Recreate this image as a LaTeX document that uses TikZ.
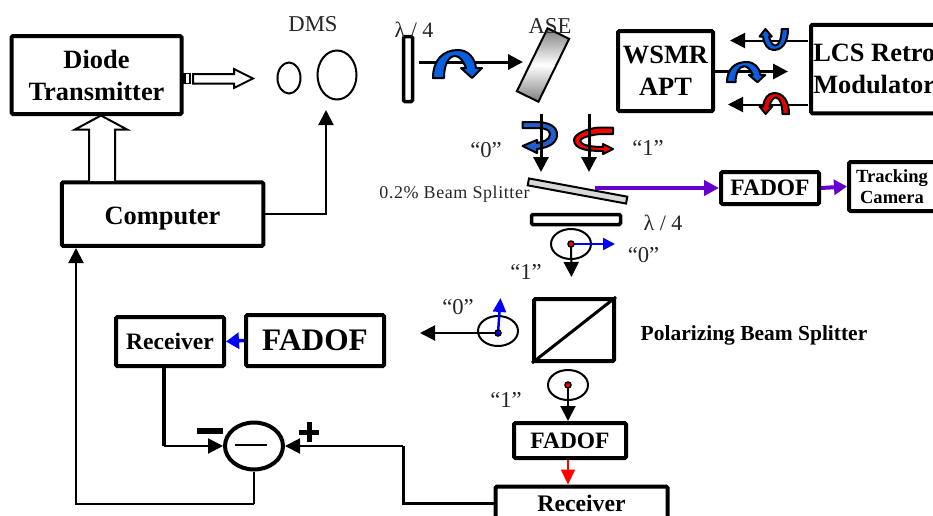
\documentclass[tikz,border=0pt]{standalone}
\usepackage{fontspec}
\setmainfont{Liberation Serif}
\usetikzlibrary{arrows.meta,calc,shapes.geometric}
\def\px{0.75pt}
\newcommand{\archpath}{(0,28) .. controls (0,10) and (10,0) .. (25,0) .. controls (35,0) and (42,8) .. (43,18) -- (49,18) -- (39,28) -- (28,18) -- (33,18) .. controls (30,10) and (26,6) .. (22,6) .. controls (15,6) and (11,16) .. (11,28) -- cycle}
\definecolor{arcblue}{HTML}{0A5FE0}
\definecolor{twistblue}{HTML}{1F5FD0}
\definecolor{purp}{HTML}{6600CC}
\tikzset{
  box/.style={draw=black,line width=4*\px,rounded corners=1pt,fill=white,inner sep=0pt,align=center,font=\bfseries\fontsize{19.8}{24}\selectfont},
  plain/.style={inner sep=0pt,font=\fontsize{17}{20}\selectfont,text=black!85},
  pol/.style={draw=black,line width=2*\px,ellipse,minimum width=40*\px,minimum height=30*\px,inner sep=0pt},
  dot/.style={circle,draw=black,line width=1.5*\px,minimum size=6*\px,inner sep=0pt},
  thinline/.style={draw=black,line width=2*\px},
  medline/.style={draw=black,line width=3*\px},
  tipn/.style={-{Triangle[length=15*\px,width=15*\px]}},
  arc/.style={draw=black,line width=2*\px,line join=round},
}
\begin{document}
\begin{tikzpicture}[x=0.75pt,y=-0.75pt]
\useasboundingbox (0,0) rectangle (933,515);
\fill[white] (0,0) rectangle (933,515);
\clip (0,0) rectangle (933,515);

% --- boxes
\node[box,minimum width=170*\px,minimum height=78*\px] (diode) at (96.5,75) {Diode\\Transmitter};
\node[box,minimum width=201.5*\px,minimum height=63.5*\px,text height=15pt,text depth=0pt] (comp) at (162.5,214) {Computer};
\node[box,minimum width=95*\px,minimum height=80*\px] (wsmr) at (665.5,71) {WSMR\\APT};
\node[box,minimum width=150*\px,minimum height=88.5*\px] (lcs) at (886,69) {};
\node[anchor=west,inner sep=0pt,align=left,font=\bfseries\fontsize{19.8}{24}\selectfont] (lcstext) at (813,69) {LCS Retro\\Modulator};
\node[box,minimum width=98*\px,minimum height=32*\px,font=\bfseries\fontsize{17.6}{20}\selectfont] (fadr) at (770,188) {FADOF};
\node[box,minimum width=86*\px,minimum height=49*\px,font=\bfseries\fontsize{13.9}{16}\selectfont] (track) at (892,186.5) {Tracking\\Camera};
\node[box,minimum width=80*\px,minimum height=62*\px] (pbs) at (574,330) {};
\node[box,minimum width=112*\px,minimum height=35*\px,font=\bfseries\fontsize{17.6}{20}\selectfont] (fadl) at (570,440.5) {FADOF};
\node[box,minimum width=172*\px,minimum height=34*\px,font=\bfseries\fontsize{17.8}{20}\selectfont] (recl) at (581.5,503.5) {Receiver};
\node[box,minimum width=108*\px,minimum height=49*\px,font=\bfseries\fontsize{17.7}{20}\selectfont] (recu) at (170,341.5) {Receiver};
\node[box,minimum width=138*\px,minimum height=51*\px,font=\bfseries\fontsize{23.5}{26}\selectfont] (fadu) at (315,340.5) {FADOF};
\node[draw=black,line width=4*\px,ellipse,minimum width=58*\px,minimum height=47*\px,inner sep=0pt] (sub) at (254,446) {};
\draw[line width=1.5*\px] (235,445) -- (267,445);

% --- plates and optics
\node[draw=black,line width=3.5*\px,rounded corners=1pt,minimum width=9*\px,minimum height=65*\px,inner sep=0pt] (qw1) at (408,69) {};
\node[draw=black,line width=3.5*\px,rounded corners=1pt,minimum width=89*\px,minimum height=10*\px,inner sep=0pt] (qw2) at (576,219.5) {};
\node[draw=black,line width=2*\px,top color=black!50,bottom color=black!50,middle color=white,rotate=-26,minimum width=24*\px,minimum height=70*\px,inner sep=0pt] (ase) at (543,65) {};
\node[draw=black,line width=2*\px,fill=black!15,rotate=-10.5,minimum width=100*\px,minimum height=7*\px,inner sep=0pt] (bs) at (577.5,191) {};
\node[draw=black,line width=2*\px,ellipse,minimum width=23*\px,minimum height=31*\px,inner sep=0pt] (dmsa) at (289,78) {};
\node[draw=black,line width=2*\px,ellipse,minimum width=39*\px,minimum height=49*\px,inner sep=0pt] (dmsb) at (337,75) {};

% --- polarisation ellipses
\node[pol] (pa) at (571,244) {};
\node[pol] (pb) at (498,331) {};
\node[pol] (pc) at (568,385) {};
\coordinate (pad) at (571,244);
\coordinate (pbd) at (498,333);
\coordinate (pcd) at (568,385);

% --- free ends
\coordinate (dmsin) at (326,110);
\coordinate (qwa) at (419,62);
\coordinate (asein) at (523,62);
\coordinate (wl1) at (730,40.5);
\coordinate (wr1) at (808,40.5);
\coordinate (wl3) at (728,104.5);
\coordinate (wr3) at (808,104.5);
\coordinate (wr2) at (788,71.5);
\coordinate (b0a) at (541,114);
\coordinate (b0b) at (541,172);
\coordinate (b1a) at (589,114);
\coordinate (b1b) at (589,172);
\coordinate (bsout) at (595,188);
\coordinate (pa0) at (615,244);
\coordinate (pa1) at (571.5,277);
\coordinate (pb0) at (500.5,298);
\coordinate (pb1) at (420,333);

% --- connectors
\draw[thinline,tipn] (comp.east) -| (dmsin);
\draw[thinline,line width=3*\px,tipn] (qwa) -- (asein);
\draw[thinline,tipn] (wr1) -- (wl1);
\draw[medline,tipn] (wsmr.east |- wr2) -- (wr2);
\draw[thinline,tipn] (wr3) -- (wl3);

% curved polarisation arrows (over the straight lines)
\draw[arc,fill=arcblue,shift={(433,50)}] \archpath;
\draw[arc,fill=arcblue,shift={(727,62)},xscale=0.78,yscale=0.72] \archpath;
\draw[arc,fill=red!90!black,shift={(789,93)},xscale=-0.6,yscale=0.75] \archpath;
\draw[arc,fill=arcblue,shift={(788,50)},xscale=-0.58,yscale=-0.75] \archpath;

\draw[arc,fill=twistblue] (522.5,122) -- (535,122) .. controls (550,122) and (558,127) .. (557,136) .. controls (556,145) and (545,148) .. (537,149) -- (537,153) -- (522.5,146) -- (537,140) -- (537,143) .. controls (543,142) and (550,140) .. (550,134) .. controls (550,129) and (543,128) .. (535,128) -- (522.5,128) -- cycle;
\draw[arc,fill=red] (613,127.5) -- (613,134) -- (600,134) .. controls (590,135) and (580,138) .. (580,141) .. controls (581,145) and (590,147) .. (603,147) -- (603,144) -- (613,149) -- (603,154) -- (603,151) .. controls (590,151) and (574,150) .. (574,140) .. controls (574,134) and (588,128) .. (600,127.5) -- cycle;

\draw[medline,tipn] (b0a) -- (b0b);
\draw[medline,tipn] (b1a) -- (b1b);

\draw[draw=purp,fill=purp,line width=4*\px,-{Triangle[length=15*\px,width=15*\px]}] (bsout) -- (fadr.west);
\draw[draw=purp,fill=purp,line width=4*\px,-{Triangle[length=13*\px,width=15*\px]}] (fadr.east) -- (track.west);

\draw[draw=blue,line width=2*\px,-{Triangle[length=12*\px,width=12*\px]}] (pad) -- (pa0);
\draw[thinline,tipn] (pad) -- (pa1);
\draw[draw=blue,line width=2.5*\px,-{Triangle[length=14*\px,width=13*\px]}] (pbd) -- (pb0);
\draw[thinline,tipn] (pbd) -- (pb1);
\draw[thinline,tipn] (pcd) -- (fadl.north -| pcd);
\node[dot,fill=red] (da) at (pad) {};
\node[dot,fill=blue] (db) at (pbd) {};
\node[dot,fill=red] (dc) at (pcd) {};

\draw[line width=3*\px] (pbs.south west) -- (pbs.north east);
\draw[draw=red,line width=2*\px,-{Triangle[length=15*\px,width=14*\px]}] (fadl.south -| pcd) -- (recl.north -| pcd);
\draw[draw=blue,line width=3.5*\px,-{Triangle[length=13*\px,width=16*\px]}] (fadu.west) -- (recu.east);

% summing junction
\coordinate (reku) at (164,446);
\coordinate (junc) at (403,446);
\coordinate (lowb) at (254,504);
\coordinate (compin) at (76,248);
\coordinate (lowc) at (76,504);
\coordinate (lowd) at (403,503.5);
\draw[line width=3.5*\px] (recu.south -| reku) -- (reku);
\draw[thinline,tipn] (reku) -- (sub.west);
\draw[medline] (recl.west) -- (lowd) -- (junc);
\draw[thinline,tipn] (junc) -- (sub.east);
\draw[thinline] (sub.south) -- (lowb);
\draw[thinline,tipn] (lowb) -- (lowc) -- (compin);
\fill (197,428) rectangle (223,434);
\fill (299,429.5) rectangle (319,434.5);
\fill (306.5,422) rectangle (311.5,442);

% diode output
\node[draw=black,line width=1.5*\px,fill=white,minimum width=6*\px,minimum height=10*\px,inner sep=0pt] (stub) at (187,78.5) {};
\fill (183,73.5) rectangle (186,83.5);
\draw[line width=2*\px,fill=white] (193,74) -- (234,74) -- (234,69) -- (253,78.5) -- (234,88) -- (234,83.5) -- (193,83.5) -- cycle;
% hollow arrow computer -> diode
\draw[line width=2*\px,fill=white] (89,181) -- (89,129.5) -- (75,129.5) -- (101,115.5) -- (127,129.5) -- (115,129.5) -- (115,181);

% --- labels
\node[plain] (tdms) at (313,24) {DMS};
\node[plain] (tase) at (550,26) {ASE};
\node[plain,font=\fontsize{16.5}{20}\selectfont] (tq1) at (414,30) {λ / 4};
\node[plain,font=\fontsize{16.5}{20}\selectfont] (tq2) at (663,223) {λ / 4};
\node[plain] (t01) at (486,150) {“0”};
\node[plain] (t11) at (648,148) {“1”};
\node[plain] (t02) at (643.5,255) {“0”};
\node[plain] (t12) at (526,272) {“1”};
\node[plain] (t03) at (458,307) {“0”};
\node[plain] (t13) at (506,400) {“1”};
\node[plain,font=\fontsize{13.5}{16}\selectfont\addfontfeature{LetterSpace=3.2}] (tbs) at (454.5,194) {0.2\% Beam Splitter};
\node[inner sep=0pt,font=\bfseries\fontsize{16.1}{19}\selectfont] (tpbs) at (754,335) {Polarizing Beam Splitter};
\end{tikzpicture}
\end{document}
